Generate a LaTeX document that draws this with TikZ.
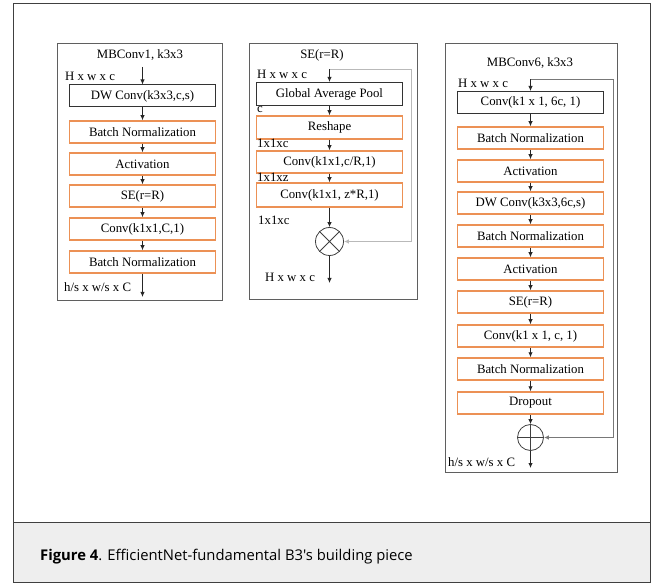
\documentclass[tikz,border=0pt]{standalone}
\usepackage{fontspec}
\setmainfont{Liberation Serif}
\newfontfamily\capfont{Open Sans}
\usetikzlibrary{arrows.meta}
\definecolor{orangec}{RGB}{236,145,85}
\definecolor{panelc}{RGB}{95,95,95}
\definecolor{fblight}{RGB}{185,185,185}
\definecolor{fbdark}{RGB}{120,120,120}
\definecolor{capbg}{RGB}{238,238,238}
\newcommand\dfs{\fontsize{12.8}{15}\selectfont}
\begin{document}
\begin{tikzpicture}[x=1pt,y=-1pt,
  panel/.style={draw=panelc, line width=1pt},
  blk/.style={draw=black!80, line width=1pt, minimum height=22pt, minimum width=146pt, inner sep=0pt, font=\dfs},
  org/.style={blk, draw=orangec, line width=1.5pt},
  lbl/.style={anchor=west, inner sep=0pt, font=\dfs},
  ttl/.style={inner sep=0pt, font=\dfs},
  conn/.style={draw=black!85, line width=0.9pt, -{Latex[length=5pt,width=4.5pt]}},
  fbl/.style={draw=fblight, line width=1pt, -{Latex[length=5pt,width=4.5pt]}},
  fbd/.style={draw=fbdark, line width=1pt, -{Latex[length=5pt,width=4.5pt]}},
  opc/.style={circle, draw=black!75, line width=0.8pt, inner sep=0pt, minimum size=28pt}
]
\useasboundingbox (0,0) rectangle (656,585);
% outer frame and caption
\fill[capbg] (13.5,522.5) rectangle (650.5,582.5);
\draw[draw=black!75, line width=1pt] (13.5,3.5) rectangle (650.5,582.5);
\draw[draw=black!75, line width=1pt] (13.5,522.5) -- (650.5,522.5);
\node[anchor=west, inner sep=0pt, font=\capfont\fontsize{14.8}{17}\selectfont] (cap) at (40,557) {\textbf{Figure 4}. EfficientNet-fundamental B3's building piece};

% ---------------- left panel ----------------
\draw[panel] (57.5,43.5) rectangle (222.5,300.5);
\node[ttl] (lt) at (140,55) {MBConv1, k3x3};
\node[lbl] (lin) at (65,76) {H x w x c};
\coordinate (l0) at (142.5,67);
\node[blk] (l1) at (142.5,96) {DW Conv(k3x3,c,s)};
\node[org] (l2) at (142.5,132) {Batch Normalization};
\node[org] (l3) at (142.5,164) {Activation};
\node[org] (l4) at (142.5,196) {SE(r=R)};
\node[org] (l5) at (142.5,229) {Conv(k1x1,C,1)};
\node[org] (l6) at (142.5,262) {Batch Normalization};
\node[lbl] (lout) at (64,287) {h/s x w/s x C};
\coordinate (lend) at (142.5,297);
\draw[conn] (l0) -- (l1);
\draw[conn] (l1) -- (l2);
\draw[conn] (l2) -- (l3);
\draw[conn] (l3) -- (l4);
\draw[conn] (l4) -- (l5);
\draw[conn] (l5) -- (l6);
\draw[conn] (l6) -- (lend);

% ---------------- middle panel ----------------
\draw[panel] (249.5,43.5) rectangle (417.5,299.5);
\node[ttl] (mt) at (322,55) {SE(r=R)};
\node[lbl] (min) at (257,74) {H x w x c};
\coordinate (m0) at (329.5,69.5);
\node[blk, minimum height=23pt] (m1) at (329.5,94) {Global Average Pool};
\node[lbl] (mc) at (257,110) {c};
\node[org, minimum height=23pt] (m2) at (329.5,127.5) {Reshape};
\node[lbl] (ml2) at (257,143) {1x1xc};
\node[org] (m3) at (329.5,162) {Conv(k1x1,c/R,1)};
\node[lbl] (ml3) at (257,177) {1x1xz};
\node[org, minimum height=24pt] (m4) at (329.5,195) {Conv(k1x1, z*R,1)};
\node[lbl] (ml4) at (258,220) {1x1xc};
\node[opc] (mx) at (329.5,241.5) {};
\draw[black!75, line width=0.8pt] (mx.north east) -- (mx.south west) (mx.north west) -- (mx.south east);
\node[lbl] (mout) at (265,277) {H x w x c};
\coordinate (mend) at (329.5,283);
\coordinate (mk) at (411.5,69.5);
\draw[conn] (m0) -- (m0 |- m1.north);
\draw[conn] (m1) -- (m2);
\draw[conn] (m2) -- (m3);
\draw[conn] (m3) -- (m4);
\draw[conn] (mx.north |- m4.south) -- (mx.north);
\draw[conn] (mx.south) -- (mend);
\draw[fbl, -] (m0) -- (mk);
\draw[fbl] (mk) |- (mx.east);

% ---------------- right panel ----------------
\draw[panel] (445.5,43.5) rectangle (617.5,472.5);
\node[ttl] (rt) at (530,63) {MBConv6, k3x3};
\node[lbl] (rin) at (458,83) {H x w x c};
\coordinate (r0) at (530.5,79.5);
\node[blk] (r1) at (530.5,102.5) {Conv(k1 x 1, 6c, 1)};
\node[org] (r2) at (530.5,138) {Batch Normalization};
\node[org] (r3) at (530.5,171) {Activation};
\node[org] (r4) at (530.5,203) {DW Conv(k3x3,6c,s)};
\node[org] (r5) at (530.5,236) {Batch Normalization};
\node[org] (r6) at (530.5,269) {Activation};
\node[org] (r7) at (530.5,302) {SE(r=R)};
\node[org] (r8) at (530.5,336) {Conv(k1 x 1, c, 1)};
\node[org] (r9) at (530.5,369) {Batch Normalization};
\node[org] (r10) at (530.5,403) {Dropout};
\node[opc, minimum size=26pt] (rp) at (530.5,437.5) {};
\draw[black!75, line width=0.8pt] (rp.north) -- (rp.south) (rp.west) -- (rp.east);
\node[lbl] (rout) at (448,462) {h/s x w/s x C};
\coordinate (rend) at (530.5,468);
\coordinate (rk) at (613.5,79.5);
\draw[conn] (r0) -- (r1);
\draw[conn] (r1) -- (r2);
\draw[conn] (r2) -- (r3);
\draw[conn] (r3) -- (r4);
\draw[conn] (r4) -- (r5);
\draw[conn] (r5) -- (r6);
\draw[conn] (r6) -- (r7);
\draw[conn] (r7) -- (r8);
\draw[conn] (r8) -- (r9);
\draw[conn] (r9) -- (r10);
\draw[conn] (r10) -- (rp);
\draw[conn] (rp) -- (rend);
\draw[fbd, -] (r0) -- (rk);
\draw[fbd] (rk) |- (rp.east);
\end{tikzpicture}
\end{document}
